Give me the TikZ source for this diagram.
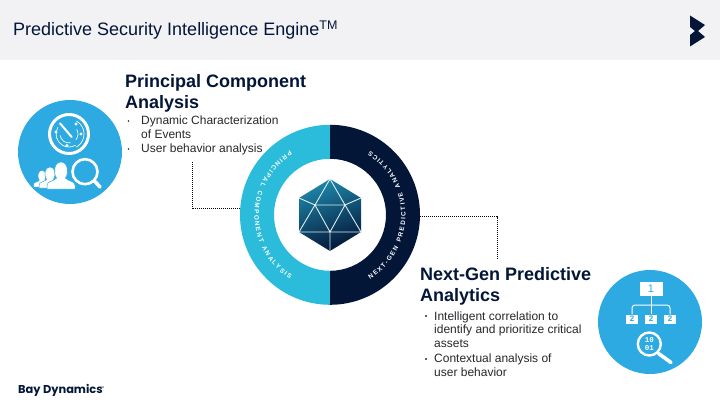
\documentclass[tikz,border=0pt]{standalone}
\usepackage{fontspec}
\setmainfont{Liberation Sans}
\newfontfamily\logofont{Poppins}
\newfontfamily\digitfont{Liberation Mono}
\definecolor{bdnavy}  {RGB}{3,22,56}
\definecolor{bdcyan}  {RGB}{43,187,219}
\definecolor{bdblue}  {RGB}{45,170,226}
\definecolor{bdband}  {RGB}{242,242,245}
\definecolor{bdgray}  {RGB}{40,40,45}
\definecolor{bdteal}  {RGB}{30,135,170}
\usetikzlibrary{calc,decorations.text}
\newcommand{\ringfont}{\fontsize{6.4}{7}\selectfont\bfseries}
\tikzset{
  head/.style={anchor=base west,align=left,text=bdnavy,
               font=\fontsize{18}{21}\selectfont\bfseries},
  body/.style={anchor=base west,align=left,text=bdgray,
               font=\fontsize{12}{14}\selectfont},
  dotnode/.style={circle,fill=bdgray,inner sep=0pt,minimum size=#1},
  dotnode/.default=2.4pt,
  iconbg/.style={circle,fill=bdblue,inner sep=0pt,minimum size=104pt},
  link/.style={dash pattern=on 1pt off 1pt,line width=1pt,black},
  whiteln/.style={draw=white,line cap=round},
  facet/.style={white!85!bdteal,line width=0.9pt},
  tinybox/.style={fill=white,inner sep=0pt,minimum width=12.3pt,minimum height=9pt,
                  text=bdblue,font=\fontsize{8}{8}\selectfont\bfseries},
}
\begin{document}
\begin{tikzpicture}[x=1pt,y=1pt]
  \useasboundingbox (0,0) rectangle (720,405);
  \fill[white] (0,0) rectangle (720,405);
  \fill[bdband] (0,345) rectangle (720,405);
  \node[anchor=base west,inner sep=0pt,text=bdnavy,font=\fontsize{18}{20}\selectfont] (title)
    at (13,369) {Predictive Security Intelligence Engine\raisebox{6pt}{\fontsize{12.5}{12}\selectfont TM}};
  % logo chevrons
  \fill[bdnavy] (690,389.5)--(705,380)--(698,374)--(705,368)--(690,358.5)
    --(690,370)--(695,374)--(690,378)--cycle;
  \node[anchor=base west,inner sep=0pt,text=bdnavy,font=\logofont\fontsize{11.4}{14}\selectfont\bfseries] (brand)
    at (18,12) {Bay Dynamics};
  \node[anchor=west,inner sep=0pt,text=bdnavy,font=\fontsize{2.5}{3}\selectfont] (brandtm)
    at (100.5,17) {TM};

  % ring
  \node[circle,inner sep=0pt,minimum size=180pt] (ring) at (330,190) {};
  \fill[bdcyan] (ring.90) arc[start angle=90,end angle=270,radius=90]
    -- ++(0,34) arc[start angle=270,end angle=90,radius=56] -- cycle;
  \fill[bdnavy] (ring.90) arc[start angle=90,end angle=-90,radius=90]
    -- ++(0,34) arc[start angle=-90,end angle=90,radius=56] -- cycle;
  \path[decorate,decoration={text along path,text align=fit to path,
      text={|\ringfont\color{white}|PRINCIPAL COMPONENT ANALYSIS}}]
    (ring.center) ++(122:75.5) arc[start angle=122,end angle=238,radius=75.5];
  \path[decorate,decoration={text along path,text align=fit to path,
      text={|\ringfont\color{white}|NEXT-GEN PREDICTIVE ANALYTICS}}]
    (ring.center) ++(-58:75.5) arc[start angle=-58,end angle=58,radius=75.5];

  % hexagon
  \shade[left color=bdteal,right color=bdnavy,shading angle=20]
    (330,226)--(361,207)--(361,173)--(330,154)--(299,173)--(299,207)--cycle;
  \draw[facet,line join=round] (299,207)--(315,200)--(330,226)--(345,200)--(361,207)
    (315,200)--(345,200)--(361,173)--(299,173)--(315,200)--(330,173)--(345,200)
    (330,173)--(330,154);

  % connectors
  \coordinate (pcaend) at (192,243);
  \coordinate (ngend) at (497,147);
  \draw[link] (pcaend) |- (ring.176);
  \draw[link] (ring.-1) -| (ngend);

  % texts
  \node[head,inner sep=0pt] (pcahead) at (125,296) {Principal Component\\Analysis};
  \node[body,inner sep=0pt] (pcabody1) at (141,266) {Dynamic Characterization\\of Events};
  \node[body,inner sep=0pt] (pcabody2) at (141,252) {User behavior analysis};
  \node[dotnode=1.8pt] (pcadot1) at (128.5,284) {};
  \node[dotnode=1.8pt] (pcadot2) at (128.5,256) {};
  \node[head,inner sep=0pt] (nghead) at (420,104) {Next-Gen Predictive\\Analytics};
  \node[body,inner sep=0pt,font=\fontsize{12}{13.5}\selectfont] (ngbody1) at (434,58)
    {Intelligent correlation to\\identify and prioritize critical\\assets};
  \node[body,inner sep=0pt,font=\fontsize{12}{14}\selectfont] (ngbody2) at (434,29)
    {Contextual analysis of\\user behavior};
  \node[dotnode] (ngdot1) at (426,89) {};
  \node[dotnode] (ngdot2) at (426,46) {};

  % left icon
  \node[iconbg] (pcaicon) at (70,253) {};
  \draw[white,line width=3pt] (69,271) circle (19.5);
  \draw[whiteln,line width=0.7pt] (69,271) ++(150:13) arc[start angle=150,end angle=300,radius=13]
    (69,271) ++(190:9) arc[start angle=190,end angle=280,radius=9]
    (69,271) ++(-60:15) arc[start angle=-60,end angle=60,radius=15]
    (69,271) ++(-40:9) arc[start angle=-40,end angle=30,radius=9];
  \draw[whiteln,line width=2pt] (60,281.7)--(71.7,268);
  \foreach \dotx/\doty in {56/273,67/259.5,81/271,76/281}{
    \fill[white] (\dotx,\doty) circle (1.6);
  }
  % people, back to front
  \foreach \px/\py/\ps in {42/218/0.62,50/217/0.78,61/216/1}{
    \fill[white,draw=bdblue,line width=0.5pt,shift={(\px,\py)},scale=\ps]
      (-14,0) -- (14,0) -- (14,4) .. controls (14,8) and (6,8) .. (4.5,11)
      .. controls (8,16) and (7,27) .. (0,27) .. controls (-7,27) and (-8,16) .. (-4.5,11)
      .. controls (-6,8) and (-14,8) .. (-14,4) -- cycle;
  }
  \fill[bdblue] (85,233.3) circle (14.5);
  \draw[white,line width=2.6pt] (85,233.3) circle (12.5);
  \draw[white,line width=3.6pt,line cap=round] (94.5,224)--(100,218);

  % right icon
  \node[iconbg] (ngicon) at (650,83) {};
  \node[fill=white,inner sep=0pt,minimum width=23pt,minimum height=14pt,text=bdblue,
        font=\fontsize{11}{11}\selectfont] (toprank) at (651,116.5) {1};
  \foreach \i/\bx in {1/632,2/651,3/670}{
    \node[tinybox] (rank\i) at (\bx,86) {2};
  }
  \draw[white,line width=1pt,rounded corners=3pt] (rank1.north) |- (rank3.north |- 0,100) -- (rank3.north);
  \draw[white,line width=1pt] (toprank.south) -- (rank2.north);
  \draw[white,line width=2.4pt] (649.3,61) circle (11.5);
  \draw[white,line width=3.6pt,line cap=round] (658.5,51.5)--(671,42.5);
  \node[inner sep=0pt,align=center,text=white,font=\digitfont\fontsize{7.5}{8}\selectfont\bfseries] (bits)
    at (649.3,61) {10\\01};
\end{tikzpicture}
\end{document}
